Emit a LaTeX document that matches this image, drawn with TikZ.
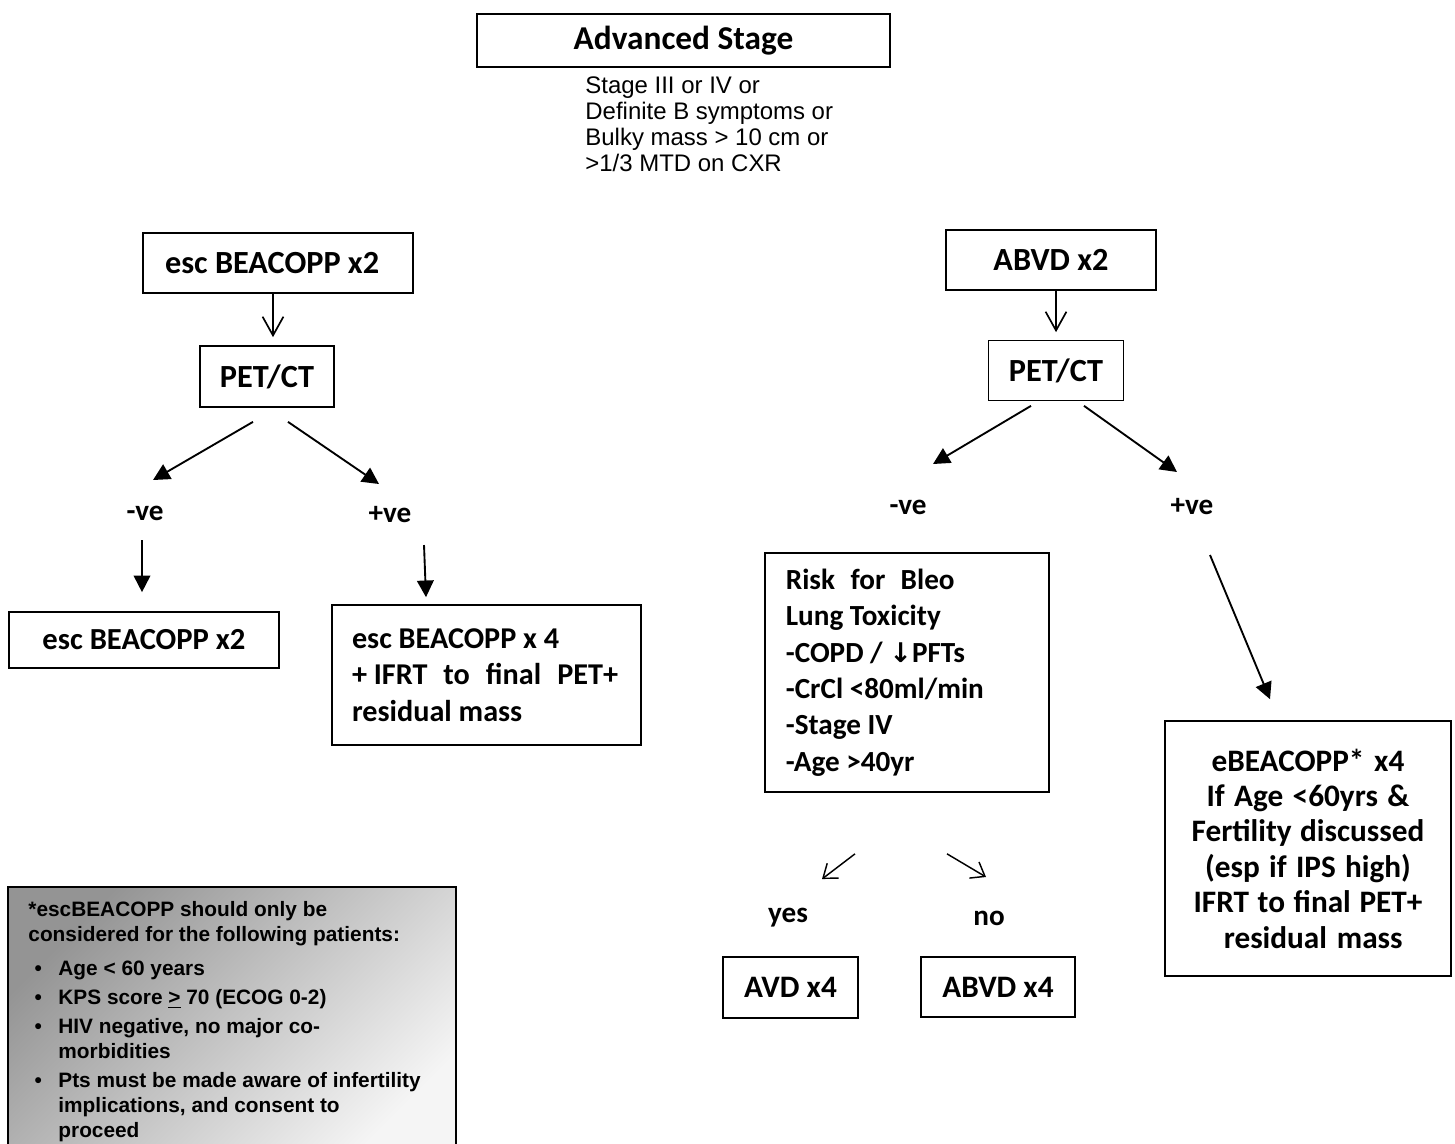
\documentclass[tikz,border=0pt]{standalone}
\usepackage{fontspec}
\setmainfont{Carlito}
\newfontfamily\arial{Liberation Sans}
\newfontfamily\dejavu{DejaVu Sans}
\usetikzlibrary{arrows.meta,calc}

\begin{document}
\begin{tikzpicture}[x=0.48pt,y=-0.48pt,
    box/.style={draw,line width=0.8pt,inner sep=0pt,font=\bfseries\fontsize{15.5}{18}\selectfont,
        execute at begin node={\spaceskip=0pt\xspaceskip=0pt\relax}},
    para/.style={box,font=\bfseries\fontsize{14}{17.5}\selectfont},
    lbl/.style={inner sep=1pt,font=\bfseries\fontsize{14}{17.5}\selectfont},
    fat/.style={line width=0.9pt,-{Triangle[length=8pt,width=8pt]}},
    open/.style={line width=0.8pt,-{Straight Barb[length=9pt,width=10pt]}},
    slim/.style={line width=0.7pt,-{Straight Barb[length=6pt,width=9pt]}}]
    \useasboundingbox (0,0) rectangle (1455,1143);

    % top
    \node[box,minimum width=198.2pt,minimum height=25.4pt,font=\bfseries\fontsize{16}{18}\selectfont] (stage) at (683.5,40.5) {Advanced Stage};
    \node[anchor=north west,align=left,inner sep=0pt,font=\arial\fontsize{11.5}{12.5}\selectfont] (crit) at (585,76)
        {Stage III or IV or\\Definite B symptoms or\\Bulky mass > 10 cm or\\>1/3 MTD on CXR};

    % left branch
    \node[box,minimum height=28.8pt,inner xsep=10.6pt,text width=108.4pt,align=left] (escA) at (278,263) {esc BEACOPP x2};
    \node[box,minimum width=64.3pt,minimum height=29.3pt] (petA) at (267,376.5) {PET/CT};
    \node[lbl] (negA) at (145,513) {-ve};
    \node[lbl] (posA) at (390,515) {+ve};
    \node[box,minimum width=129.6pt,minimum height=26.9pt,font=\bfseries\fontsize{14.7}{18}\selectfont] (escB) at (144,640) {esc BEACOPP x2};
    \node[para,minimum height=67.2pt,inner xsep=9.6pt,text width=129.1pt,align=left,font=\bfseries\fontsize{14.5}{17.5}\selectfont] (escC) at (486.5,675)
        {esc BEACOPP x 4\\\makebox[127.7pt][l]{+ IFRT \hfill to \hfill final \hfill PET+}\\residual mass};

    \draw[open] ($(escA.south)+(-5,0)$) -- ($(petA.north)+(6,-8)$);
    \draw[fat] ($(petA.south)+(-14,14)$) -- ($(negA)+(8,-33)$);
    \draw[fat] ($(petA.south)+(21,14)$) -- ($(posA)+(-11,-31)$);
    \draw[fat] ($(negA)+(-3,27)$) -- ($(escB.north)+(-2,-19)$);
    \draw[fat] ($(posA)+(34,30)$) -- ($(escC.north)+(-60.5,-7)$);

    % right branch
    \node[box,minimum width=100.8pt,minimum height=28.8pt] (abvd) at (1051,260) {ABVD x2};
    \node[box,minimum width=64.8pt,minimum height=28.8pt] (petB) at (1056,370.5) {PET/CT};
    \node[lbl] (negB) at (908,507) {-ve};
    \node[lbl] (posB) at (1192,507) {+ve};
    \node[para,minimum height=114.7pt,inner xsep=10pt,text width=116.3pt,align=left] (risk) at (907,672.5)
        {\makebox[81pt][l]{Risk \hfill for \hfill Bleo}\\Lung Toxicity\\-COPD / {\dejavu\bfseries\fontsize{13}{17.5}\selectfont ↓}PFTs\\-CrCl <80ml/min\\-Stage IV\\-Age >40yr};
    \node[lbl] (yes) at (788,918) {yes};
    \node[lbl] (no) at (989,918) {no};
    \node[box,minimum width=64.8pt,minimum height=29.3pt,font=\bfseries\fontsize{15}{18}\selectfont] (avd) at (790.5,987.5) {AVD x4};
    \node[box,minimum width=73.9pt,minimum height=28.8pt,font=\bfseries\fontsize{15}{18}\selectfont] (abvdB) at (998,987) {ABVD x4};
    \node[box,minimum height=122.4pt,text width=137.3pt,align=center,font=\bfseries\fontsize{15}{17}\selectfont] (ebea) at (1308,848.5)
        {eBEACOPP* x4\\If Age <60yrs \&\\Fertility discussed\\(esp if IPS high)\\IFRT to final PET+\\\hspace{5pt}residual mass};

    \draw[open] ($(abvd.south)+(5,0)$) -- ($(petB.north)+(0,-7.5)$);
    \draw[fat] ($(petB.south)+(-25,4.5)$) -- ($(negB)+(25,-43)$);
    \draw[fat] ($(petB.south)+(28,4.5)$) -- ($(posB)+(-15,-35)$);
    \draw[fat] ($(posB)+(18,48)$) -- ($(ebea.north)+(-38,-21)$);
    \draw[slim] ($(risk.south)+(-52,61)$) -- ($(yes)+(34,-39)$);
    \draw[slim] ($(risk.south)+(40,61)$) -- ($(no)+(-3,-41)$);

    % note
    \shadedraw[line width=0.8pt,top color=black!42,bottom color=black!4,shading angle=45] (8,887) rectangle (456,1160);
    \node[anchor=north west,inner sep=0pt,font=\arial\bfseries\fontsize{10}{12}\selectfont] (note) at (28,899)
        {\begin{tabular}{@{\hspace{3pt}}p{11.4pt}@{}l@{}}
        \multicolumn{2}{@{}l@{}}{*escBEACOPP should only be}\\
        \multicolumn{2}{@{}l@{}}{considered for the following patients:}\\[4.3pt]
        • & Age < 60 years\\[1.9pt]
        • & KPS score \underline{>} 70 (ECOG 0-2)\\[1.9pt]
        • & HIV negative, no major co-\\
          & morbidities\\[1.9pt]
        • & Pts must be made aware of infertility\\
          & implications, and consent to\\
          & proceed
        \end{tabular}};
\end{tikzpicture}
\end{document}
